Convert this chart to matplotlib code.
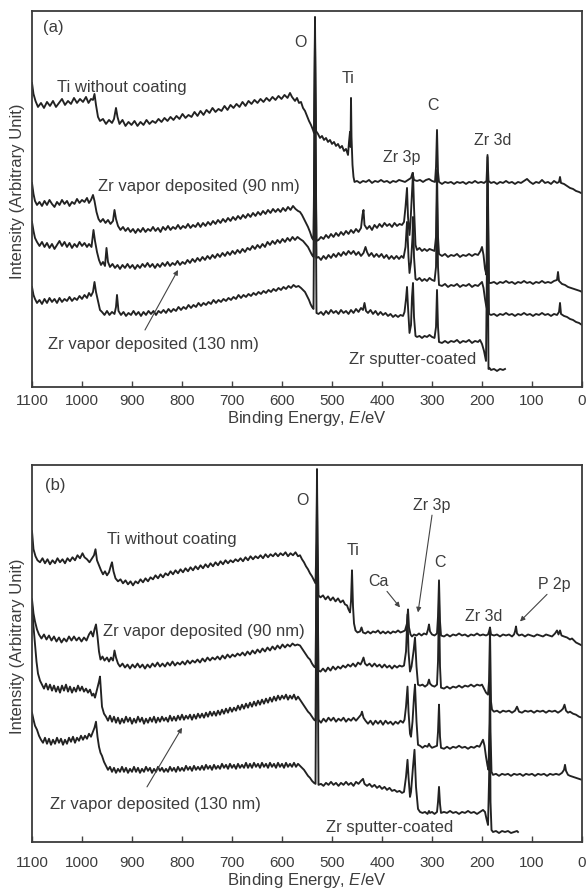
import matplotlib.pyplot as plt
import numpy as np

plt.rcParams['font.family'] = ['Liberation Sans', 'DejaVu Sans']
plt.rcParams['mathtext.fontset'] = 'custom'
plt.rcParams['mathtext.rm'] = 'Liberation Sans'
plt.rcParams['mathtext.it'] = 'Liberation Sans:italic'

# ---- panel (a): [binding energy eV, intensity (arb.)] ----
a_ti = [(1100, 304), (1097, 293), (1093, 286), (1088, 280), (1082, 284), (1076, 279), (1070, 285), (1064, 281),
        (1058, 286), (1052, 280), (1046, 284), (1040, 288), (1034, 282), (1028, 286), (1022, 283), (1016, 289),
        (1010, 284), (1004, 288), (998, 285), (992, 290), (987, 284), (982, 288), (978, 287), (975, 293),
        (972, 282), (968, 270), (964, 266), (958, 268), (952, 263), (946, 267), (940, 264), (936, 268),
        (932, 279), (929, 270), (925, 263), (919, 267), (913, 261), (907, 265), (901, 262), (895, 266),
        (889, 261), (883, 265), (877, 262), (871, 267), (865, 263), (859, 266), (853, 264), (847, 268),
        (841, 265), (835, 269), (829, 266), (823, 270), (817, 267), (811, 271), (805, 268), (799, 273),
        (793, 269), (787, 272), (781, 270), (775, 275), (769, 271), (763, 276), (757, 272), (751, 277),
        (745, 274), (739, 279), (733, 275), (727, 278), (721, 276), (715, 281), (709, 277), (703, 282),
        (697, 279), (691, 283), (685, 280), (679, 285), (673, 281), (667, 286), (661, 283), (655, 287),
        (649, 284), (643, 288), (637, 285), (631, 289), (625, 286), (619, 290), (613, 287), (607, 291),
        (601, 288), (595, 292), (589, 289), (584, 294), (580, 290), (574, 286), (570, 289), (566, 284),
        (562, 285), (558, 279), (554, 276), (550, 271), (546, 266), (542, 262), (538, 257), (536, 254),
        (535, 300), (534, 370), (533, 300), (532, 256), (528, 253), (524, 249), (520, 251), (516, 247),
        (512, 249), (508, 245), (504, 247), (500, 243), (496, 245), (492, 241), (488, 243), (484, 239),
        (480, 241), (476, 236), (472, 238), (468, 232), (466, 245), (464, 255), (463, 240), (462, 289),
        (461, 250), (459, 222), (457, 210), (455, 205), (450, 206), (444, 204), (438, 206), (432, 205),
        (426, 207), (420, 204), (414, 206), (408, 205), (402, 207), (396, 205), (390, 206), (384, 204),
        (378, 206), (372, 205), (366, 207), (360, 206), (354, 205), (348, 207), (342, 209), (339, 214),
        (336, 207), (330, 206), (324, 207), (318, 205), (312, 207), (306, 208), (300, 206), (294, 205),
        (292, 220), (290, 257), (288, 215), (286, 205), (280, 203), (274, 205), (268, 204), (262, 205),
        (256, 203), (250, 205), (244, 204), (238, 205), (232, 203), (226, 205), (220, 204), (214, 206),
        (208, 204), (202, 205), (196, 204), (191, 206), (189, 230), (187, 206), (182, 204), (176, 205),
        (170, 203), (164, 205), (158, 204), (152, 206), (146, 204), (140, 205), (134, 203), (128, 205),
        (122, 204), (116, 206), (110, 208), (104, 205), (98, 203), (92, 205), (86, 204), (80, 207),
        (74, 204), (68, 205), (62, 203), (56, 206), (50, 204), (46, 205), (44, 210), (42, 204),
        (36, 203), (30, 201), (24, 199), (18, 198), (12, 196), (6, 195), (2, 194)]

a_zr90 = [(1100, 204), (1097, 193), (1094, 186), (1090, 182), (1085, 185), (1080, 181), (1075, 186), (1070, 182),
          (1065, 187), (1060, 183), (1055, 180), (1050, 185), (1045, 182), (1040, 187), (1035, 183), (1030, 186),
          (1025, 181), (1020, 185), (1015, 183), (1010, 188), (1005, 184), (1000, 187), (995, 185), (990, 189),
          (986, 184), (982, 187), (978, 192), (975, 186), (971, 175), (967, 168), (963, 165), (958, 168),
          (953, 164), (948, 167), (943, 163), (938, 166), (935, 177), (932, 168), (928, 161), (923, 157),
          (918, 160), (913, 156), (908, 159), (903, 155), (898, 158), (893, 154), (888, 158), (883, 155),
          (878, 159), (873, 155), (868, 158), (863, 156), (858, 160), (853, 156), (848, 159), (843, 155),
          (838, 160), (833, 157), (828, 161), (823, 157), (818, 160), (813, 158), (808, 162), (803, 158),
          (798, 161), (793, 159), (788, 163), (783, 159), (778, 162), (773, 160), (768, 164), (763, 160),
          (758, 164), (753, 161), (748, 165), (743, 162), (738, 166), (733, 163), (728, 167), (723, 164),
          (718, 168), (713, 165), (708, 169), (703, 166), (698, 170), (693, 167), (688, 171), (683, 168),
          (678, 172), (673, 169), (668, 173), (663, 170), (658, 174), (653, 171), (648, 175), (643, 172),
          (638, 176), (633, 173), (628, 177), (623, 174), (618, 178), (613, 175), (608, 178), (603, 175),
          (598, 179), (593, 176), (588, 180), (583, 177), (578, 181), (573, 178), (568, 176), (564, 175),
          (560, 172), (556, 168), (552, 164), (548, 160), (544, 155), (540, 149), (537, 147), (535, 250),
          (534, 365), (533, 250), (531, 146), (527, 147), (522, 150), (517, 148), (512, 152), (507, 149),
          (502, 153), (497, 150), (492, 154), (487, 151), (482, 155), (477, 152), (472, 156), (467, 153),
          (462, 157), (457, 154), (452, 158), (447, 155), (442, 159), (439, 172), (437, 177), (435, 162),
          (430, 158), (425, 161), (420, 157), (415, 162), (410, 159), (405, 163), (400, 160), (395, 164),
          (390, 161), (385, 163), (380, 160), (375, 164), (370, 161), (365, 163), (360, 162), (356, 165),
          (353, 180), (350, 199), (348, 170), (345, 152), (343, 165), (340, 195), (338, 214), (336, 180),
          (333, 142), (330, 137), (325, 139), (320, 136), (315, 138), (310, 136), (305, 138), (300, 137),
          (295, 136), (292, 150), (290, 217), (288, 150), (286, 133), (280, 131), (274, 133), (268, 130),
          (262, 132), (256, 131), (250, 133), (244, 130), (238, 132), (232, 131), (226, 133), (220, 131),
          (214, 133), (208, 132), (203, 136), (200, 140), (197, 132), (194, 118), (191, 112), (189, 232),
          (186, 104), (182, 104), (176, 105), (170, 103), (164, 105), (158, 104), (152, 106), (146, 104),
          (140, 105), (134, 103), (128, 105), (122, 104), (116, 106), (110, 104), (104, 105), (98, 103),
          (92, 105), (86, 104), (80, 106), (74, 104), (68, 105), (62, 104), (56, 106), (50, 107),
          (48, 115), (46, 106), (40, 103), (34, 102), (28, 100), (22, 99), (16, 98), (10, 97), (4, 96), (0, 95)]

a_zr130 = [(1100, 165), (1097, 156), (1094, 149), (1090, 145), (1085, 141), (1080, 145), (1075, 140), (1070, 144),
           (1065, 139), (1060, 143), (1055, 138), (1050, 142), (1045, 146), (1040, 141), (1035, 145), (1030, 140),
           (1025, 144), (1020, 139), (1015, 143), (1010, 140), (1005, 145), (1000, 141), (995, 144), (990, 140),
           (986, 143), (981, 140), (977, 157), (974, 146), (970, 135), (966, 127), (962, 122), (958, 125),
           (954, 121), (951, 139), (948, 125), (944, 120), (939, 123), (934, 119), (929, 122), (924, 118),
           (919, 122), (914, 119), (909, 123), (904, 119), (899, 122), (894, 118), (889, 122), (884, 119),
           (879, 123), (874, 120), (869, 124), (864, 120), (859, 123), (854, 119), (849, 123), (844, 120),
           (839, 124), (834, 121), (829, 125), (824, 121), (819, 124), (814, 122), (809, 126), (804, 122),
           (799, 125), (794, 123), (789, 127), (784, 124), (779, 128), (774, 125), (769, 129), (764, 126),
           (759, 130), (754, 127), (749, 131), (744, 128), (739, 132), (734, 129), (729, 133), (724, 130),
           (719, 134), (714, 131), (709, 135), (704, 132), (699, 136), (694, 133), (689, 137), (684, 134),
           (679, 138), (674, 135), (669, 139), (664, 137), (659, 141), (654, 138), (649, 142), (644, 139),
           (639, 143), (634, 140), (629, 145), (624, 142), (619, 146), (614, 143), (609, 147), (604, 144),
           (599, 148), (594, 145), (589, 149), (584, 146), (579, 150), (574, 147), (569, 150), (564, 148),
           (558, 146), (553, 143), (548, 140), (544, 136), (540, 132), (537, 130), (535, 240), (534, 360),
           (533, 240), (531, 129), (527, 130), (522, 127), (517, 131), (512, 128), (507, 132), (502, 129),
           (497, 133), (492, 130), (487, 134), (482, 131), (477, 135), (472, 132), (467, 136), (462, 133),
           (457, 136), (452, 132), (447, 135), (442, 131), (437, 134), (433, 140), (430, 135), (426, 131),
           (421, 134), (416, 130), (411, 133), (406, 130), (401, 133), (396, 129), (391, 132), (386, 128),
           (381, 131), (376, 128), (371, 131), (366, 128), (361, 131), (357, 129), (353, 140), (350, 165),
           (347, 130), (345, 114), (342, 125), (339, 150), (338, 170), (336, 130), (333, 108), (330, 107),
           (325, 109), (320, 106), (315, 108), (310, 106), (305, 109), (300, 107), (295, 106), (292, 120),
           (290, 190), (288, 120), (286, 102), (280, 101), (274, 103), (268, 100), (262, 102), (256, 101),
           (250, 103), (244, 100), (238, 102), (232, 101), (226, 103), (220, 100), (214, 102), (208, 101),
           (204, 103), (200, 105), (197, 99), (194, 88), (192, 82), (190, 78), (189, 215), (186, 73),
           (182, 72), (176, 73), (170, 71), (164, 73), (158, 72), (152, 74), (146, 72), (140, 73),
           (134, 71), (128, 73), (122, 72), (116, 74), (110, 72), (104, 73), (98, 71), (92, 73),
           (86, 72), (80, 74), (74, 72), (68, 73), (62, 71), (56, 73), (50, 72), (46, 75), (44, 84),
           (42, 73), (36, 71), (30, 70), (24, 68), (18, 67), (12, 65), (6, 64), (0, 62)]

a_sput = [(1100, 100), (1097, 92), (1094, 88), (1090, 84), (1085, 87), (1080, 83), (1075, 88), (1070, 84),
          (1065, 89), (1060, 85), (1055, 88), (1050, 84), (1045, 89), (1040, 85), (1035, 88), (1030, 86),
          (1025, 90), (1020, 86), (1015, 89), (1010, 87), (1005, 91), (1000, 88), (995, 92), (990, 89),
          (986, 94), (982, 91), (978, 95), (975, 105), (972, 95), (968, 86), (964, 77), (960, 75),
          (955, 72), (950, 76), (945, 72), (940, 75), (935, 73), (932, 80), (930, 92), (927, 76),
          (922, 72), (917, 75), (912, 71), (907, 74), (902, 72), (897, 76), (892, 72), (887, 75),
          (882, 71), (877, 75), (872, 72), (867, 76), (862, 73), (857, 76), (852, 72), (847, 76),
          (842, 74), (837, 77), (832, 74), (827, 78), (822, 75), (817, 78), (812, 76), (807, 80),
          (802, 77), (797, 80), (792, 78), (787, 82), (782, 79), (777, 82), (772, 80), (767, 84),
          (762, 81), (757, 84), (752, 82), (747, 85), (742, 83), (737, 87), (732, 84), (727, 87),
          (722, 85), (717, 88), (712, 86), (707, 89), (702, 87), (697, 90), (692, 88), (687, 92),
          (682, 89), (677, 92), (672, 90), (667, 93), (662, 91), (657, 94), (652, 92), (647, 95),
          (642, 93), (637, 96), (632, 94), (627, 97), (622, 95), (617, 98), (612, 96), (607, 99),
          (602, 97), (597, 100), (592, 98), (587, 101), (582, 99), (577, 102), (572, 100), (567, 101),
          (562, 99), (558, 97), (554, 95), (550, 91), (546, 87), (543, 83), (540, 80), (537, 78),
          (535, 230), (534, 355), (533, 230), (531, 74), (527, 73), (522, 75), (517, 72), (512, 76),
          (507, 73), (502, 77), (497, 74), (492, 76), (487, 73), (482, 77), (477, 74), (472, 76),
          (467, 73), (462, 77), (457, 74), (452, 78), (447, 75), (442, 79), (438, 77), (435, 84),
          (432, 76), (428, 74), (423, 77), (418, 73), (413, 76), (408, 72), (403, 75), (398, 72),
          (393, 74), (388, 71), (383, 73), (378, 70), (373, 72), (368, 70), (363, 72), (358, 71),
          (355, 75), (352, 88), (350, 100), (348, 80), (345, 54), (342, 62), (340, 90), (338, 104),
          (336, 70), (333, 51), (330, 50), (325, 51), (320, 49), (315, 51), (310, 50), (305, 52),
          (300, 50), (295, 49), (292, 60), (290, 97), (288, 60), (286, 45), (280, 44), (274, 46),
          (268, 44), (262, 46), (256, 45), (250, 47), (244, 44), (238, 46), (232, 45), (226, 47),
          (220, 44), (214, 46), (208, 45), (204, 47), (200, 43), (196, 36), (192, 26), (189, 180),
          (187, 18), (185, 19), (182, 17), (176, 18), (170, 16), (164, 18), (158, 17), (154, 18)]

# ---- panel (b) ----
b_ti = [(1100, 310), (1097, 292), (1093, 285), (1089, 281), (1084, 279), (1079, 283), (1074, 278), (1069, 282),
        (1064, 277), (1059, 281), (1054, 278), (1049, 283), (1044, 279), (1039, 282), (1034, 278), (1029, 283),
        (1024, 280), (1019, 284), (1014, 281), (1009, 286), (1004, 283), (999, 288), (995, 284), (990, 282),
        (985, 279), (980, 283), (976, 286), (973, 292), (970, 281), (966, 276), (962, 271), (958, 267),
        (954, 270), (950, 266), (946, 269), (942, 276), (940, 279), (937, 270), (933, 263), (928, 260),
        (923, 262), (918, 258), (913, 261), (908, 257), (903, 260), (898, 256), (893, 260), (888, 258),
        (883, 262), (878, 259), (873, 263), (868, 260), (863, 264), (858, 262), (853, 266), (848, 263),
        (843, 267), (838, 264), (833, 268), (828, 266), (823, 270), (818, 267), (813, 271), (808, 268),
        (803, 272), (798, 269), (793, 273), (788, 270), (783, 274), (778, 271), (773, 275), (768, 272),
        (763, 276), (758, 273), (753, 277), (748, 274), (743, 278), (738, 275), (733, 279), (728, 276),
        (723, 280), (718, 277), (713, 281), (708, 278), (703, 281), (698, 279), (693, 282), (688, 280),
        (683, 283), (678, 280), (673, 284), (668, 281), (663, 285), (658, 282), (653, 285), (648, 283),
        (643, 286), (638, 283), (633, 287), (628, 284), (623, 287), (618, 285), (613, 288), (608, 285),
        (603, 288), (598, 286), (593, 289), (588, 285), (583, 288), (578, 286), (573, 289), (568, 285),
        (564, 286), (560, 282), (556, 279), (552, 275), (548, 272), (544, 268), (540, 265), (536, 261),
        (533, 258), (531, 300), (530, 372), (529, 300), (527, 246), (523, 244), (518, 246), (513, 242),
        (508, 245), (503, 241), (498, 244), (493, 240), (488, 243), (483, 239), (478, 241), (474, 237),
        (470, 236), (467, 232), (464, 229), (462, 240), (460, 271), (458, 235), (456, 218), (453, 211),
        (449, 209), (444, 210), (441, 214), (438, 209), (433, 208), (428, 210), (423, 208), (418, 210),
        (413, 209), (408, 211), (403, 208), (398, 210), (393, 208), (388, 210), (383, 208), (378, 210),
        (373, 209), (368, 211), (363, 209), (358, 210), (354, 211), (350, 218), (348, 232), (346, 214),
        (343, 207), (340, 205), (336, 207), (331, 206), (326, 208), (321, 206), (316, 208), (311, 207),
        (308, 212), (306, 217), (304, 210), (300, 207), (295, 206), (290, 208), (288, 225), (286, 261),
        (284, 220), (282, 206), (276, 205), (270, 207), (264, 205), (258, 207), (252, 206), (246, 208),
        (240, 206), (234, 207), (228, 205), (222, 207), (216, 206), (210, 208), (204, 206), (198, 207),
        (192, 206), (188, 207), (186, 210), (184, 214), (182, 207), (176, 206), (170, 207), (164, 205),
        (158, 207), (152, 206), (146, 207), (140, 205), (136, 207), (134, 210), (132, 215), (130, 208),
        (126, 206), (120, 207), (114, 205), (108, 207), (102, 206), (96, 205), (90, 207), (84, 206),
        (78, 205), (72, 207), (66, 206), (60, 205), (54, 208), (50, 211), (47, 207), (44, 211),
        (41, 206), (36, 205), (30, 204), (24, 202), (20, 203), (16, 201), (12, 199), (8, 198), (4, 197), (0, 196)]

b_zr90 = [(1100, 242), (1097, 228), (1094, 220), (1090, 212), (1086, 207), (1081, 203), (1076, 207), (1071, 202),
          (1066, 206), (1061, 201), (1056, 205), (1051, 200), (1046, 204), (1041, 199), (1036, 203), (1031, 200),
          (1026, 205), (1021, 201), (1016, 205), (1011, 201), (1006, 204), (1001, 200), (996, 204), (991, 201),
          (986, 207), (982, 210), (978, 205), (975, 212), (972, 217), (969, 205), (966, 190), (963, 182),
          (959, 185), (955, 181), (950, 184), (946, 180), (942, 184), (938, 181), (935, 191), (932, 184),
          (928, 178), (924, 175), (919, 178), (914, 174), (909, 177), (904, 173), (899, 177), (894, 174),
          (889, 178), (884, 174), (879, 177), (874, 173), (869, 177), (864, 174), (859, 178), (854, 175),
          (849, 179), (844, 175), (839, 178), (834, 175), (829, 179), (824, 176), (819, 180), (814, 176),
          (809, 179), (804, 177), (799, 180), (794, 177), (789, 181), (784, 178), (779, 181), (774, 179),
          (769, 182), (764, 179), (759, 183), (754, 180), (749, 184), (744, 181), (739, 184), (734, 182),
          (729, 185), (724, 182), (719, 186), (714, 183), (709, 187), (704, 184), (699, 187), (694, 185),
          (689, 188), (684, 186), (679, 189), (674, 186), (669, 190), (664, 187), (659, 191), (654, 188),
          (649, 192), (644, 189), (639, 193), (634, 190), (629, 194), (624, 191), (619, 195), (614, 192),
          (609, 196), (604, 193), (599, 197), (594, 194), (589, 197), (584, 195), (579, 198), (574, 196),
          (569, 197), (564, 196), (560, 193), (556, 190), (552, 187), (548, 184), (544, 182), (540, 178),
          (536, 175), (533, 174), (531, 260), (530, 360), (529, 260), (527, 171), (523, 170), (518, 173),
          (513, 170), (508, 174), (503, 171), (498, 175), (493, 172), (488, 175), (483, 173), (478, 176),
          (473, 174), (468, 177), (463, 175), (458, 178), (453, 175), (448, 179), (443, 177), (440, 180),
          (437, 184), (434, 178), (430, 176), (425, 178), (420, 175), (415, 178), (410, 175), (405, 177),
          (400, 174), (395, 177), (390, 174), (385, 176), (380, 173), (375, 176), (370, 174), (365, 176),
          (360, 175), (356, 176), (352, 190), (349, 227), (347, 190), (344, 170), (341, 175), (337, 190),
          (334, 204), (331, 175), (328, 157), (324, 156), (319, 157), (314, 155), (309, 157), (306, 162),
          (304, 158), (300, 156), (295, 155), (290, 157), (288, 180), (286, 242), (284, 175), (282, 154),
          (276, 153), (270, 155), (264, 153), (258, 155), (252, 154), (246, 156), (240, 154), (234, 156),
          (228, 155), (222, 157), (216, 155), (210, 157), (204, 156), (200, 157), (196, 153), (192, 149),
          (188, 147), (186, 160), (184, 212), (182, 140), (180, 132), (176, 130), (170, 131), (164, 129),
          (158, 131), (152, 130), (146, 131), (140, 129), (134, 131), (130, 135), (126, 130), (120, 129),
          (114, 131), (108, 130), (102, 131), (96, 129), (90, 131), (84, 130), (78, 131), (72, 129),
          (66, 131), (60, 130), (54, 131), (48, 129), (42, 131), (38, 133), (35, 137), (32, 131),
          (28, 129), (24, 130), (18, 128), (12, 127), (6, 125), (0, 124)]

b_zr130 = [(1100, 237), (1097, 215), (1094, 198), (1091, 180), (1088, 168), (1084, 161), (1080, 157), (1076, 153),
           (1072, 158), (1068, 152), (1064, 157), (1060, 151), (1056, 156), (1052, 150), (1048, 155), (1044, 149),
           (1040, 156), (1036, 151), (1032, 157), (1028, 150), (1024, 155), (1020, 149), (1016, 154), (1012, 150),
           (1008, 156), (1004, 151), (1000, 155), (996, 150), (992, 153), (988, 149), (984, 152), (980, 146),
           (977, 148), (974, 144), (970, 152), (966, 160), (964, 165), (962, 150), (960, 135), (956, 128),
           (952, 125), (948, 121), (944, 126), (940, 120), (936, 125), (932, 119), (928, 124), (924, 118),
           (920, 123), (916, 119), (912, 125), (908, 120), (904, 124), (900, 118), (896, 123), (892, 119),
           (888, 125), (884, 120), (880, 124), (876, 118), (872, 123), (868, 119), (864, 124), (860, 120),
           (856, 125), (852, 119), (848, 124), (844, 120), (840, 125), (836, 121), (832, 124), (828, 120),
           (824, 126), (820, 121), (816, 125), (812, 121), (808, 126), (804, 122), (800, 127), (796, 122),
           (792, 126), (788, 123), (784, 127), (780, 122), (776, 127), (772, 123), (768, 128), (764, 124),
           (760, 128), (756, 124), (752, 129), (748, 125), (744, 130), (740, 126), (736, 130), (732, 126),
           (728, 131), (724, 127), (720, 132), (716, 128), (712, 133), (708, 129), (704, 134), (700, 130),
           (696, 134), (692, 131), (688, 136), (684, 132), (680, 137), (676, 133), (672, 138), (668, 134),
           (664, 139), (660, 135), (656, 140), (652, 136), (648, 141), (644, 137), (640, 142), (636, 138),
           (632, 143), (628, 139), (624, 144), (620, 140), (616, 145), (612, 141), (608, 146), (604, 142),
           (600, 146), (596, 143), (592, 147), (588, 142), (584, 146), (580, 143), (576, 147), (572, 142),
           (568, 145), (564, 142), (560, 139), (556, 136), (552, 133), (548, 130), (544, 128), (540, 125),
           (536, 122), (533, 121), (531, 250), (530, 350), (529, 250), (527, 122), (522, 119), (517, 123),
           (512, 120), (507, 124), (502, 121), (497, 124), (492, 120), (487, 123), (482, 121), (477, 124),
           (472, 120), (467, 123), (462, 121), (457, 124), (452, 121), (447, 124), (442, 127), (440, 130),
           (437, 124), (433, 121), (428, 118), (423, 121), (418, 117), (413, 121), (408, 118), (403, 121),
           (398, 117), (393, 121), (388, 118), (383, 120), (378, 117), (373, 120), (368, 118), (363, 121),
           (358, 119), (355, 122), (352, 135), (349, 155), (347, 130), (344, 108), (342, 105), (339, 120),
           (336, 145), (334, 157), (331, 120), (328, 97), (324, 96), (319, 94), (314, 96), (309, 95),
           (306, 98), (304, 96), (300, 94), (295, 95), (290, 96), (288, 110), (286, 137), (284, 105),
           (282, 94), (276, 93), (270, 95), (264, 93), (258, 95), (252, 94), (246, 96), (240, 94),
           (234, 95), (228, 93), (222, 95), (216, 94), (210, 96), (205, 95), (202, 98), (198, 102),
           (195, 96), (192, 85), (189, 76), (187, 72), (185, 120), (184, 162), (183, 110), (181, 70),
           (178, 67), (172, 68), (166, 66), (160, 68), (154, 67), (148, 68), (142, 66), (136, 68),
           (130, 67), (124, 68), (118, 66), (112, 68), (106, 67), (100, 68), (94, 66), (88, 68),
           (82, 67), (76, 68), (70, 66), (64, 68), (58, 67), (52, 68), (46, 67), (40, 69), (36, 72),
           (34, 77), (32, 71), (28, 67), (24, 66), (18, 65), (12, 64), (6, 63), (0, 62)]

b_sput = [(1100, 129), (1097, 122), (1094, 116), (1090, 112), (1086, 106), (1082, 102), (1078, 99), (1074, 104),
          (1070, 98), (1066, 103), (1062, 97), (1058, 102), (1054, 98), (1050, 104), (1046, 99), (1042, 103),
          (1038, 97), (1034, 102), (1030, 98), (1026, 104), (1022, 100), (1018, 105), (1014, 99), (1010, 104),
          (1006, 101), (1002, 106), (998, 102), (994, 106), (990, 103), (986, 108), (982, 105), (978, 110),
          (975, 114), (972, 120), (969, 105), (966, 95), (963, 89), (960, 86), (956, 80), (952, 76),
          (948, 72), (944, 75), (940, 70), (936, 74), (932, 69), (928, 73), (924, 70), (920, 75),
          (916, 70), (912, 74), (908, 69), (904, 73), (900, 70), (896, 75), (892, 70), (888, 74),
          (884, 69), (880, 73), (876, 70), (872, 75), (868, 71), (864, 74), (860, 69), (856, 73),
          (852, 70), (848, 75), (844, 71), (840, 74), (836, 70), (832, 73), (828, 70), (824, 75),
          (820, 71), (816, 74), (812, 70), (808, 75), (804, 71), (800, 74), (796, 71), (792, 76),
          (788, 72), (784, 75), (780, 71), (776, 76), (772, 72), (768, 75), (764, 72), (760, 76),
          (756, 72), (752, 77), (748, 73), (744, 76), (740, 72), (736, 77), (732, 73), (728, 76),
          (724, 73), (720, 78), (716, 74), (712, 77), (708, 73), (704, 78), (700, 74), (696, 77),
          (692, 73), (688, 78), (684, 74), (680, 77), (676, 74), (672, 79), (668, 74), (664, 78),
          (660, 74), (656, 79), (652, 75), (648, 78), (644, 74), (640, 79), (636, 75), (632, 78),
          (628, 74), (624, 79), (620, 75), (616, 78), (612, 74), (608, 79), (604, 75), (600, 78),
          (596, 74), (592, 79), (588, 75), (584, 78), (580, 75), (576, 79), (572, 75), (568, 78),
          (564, 76), (560, 74), (556, 72), (552, 69), (548, 66), (544, 64), (540, 61), (536, 59),
          (533, 58), (531, 230), (530, 340), (529, 230), (527, 57), (522, 58), (517, 56), (512, 59),
          (507, 57), (502, 60), (497, 57), (492, 59), (487, 56), (482, 59), (477, 57), (472, 60),
          (467, 57), (462, 59), (457, 56), (452, 60), (447, 58), (442, 61), (438, 63), (435, 58),
          (430, 56), (425, 58), (420, 55), (415, 57), (410, 54), (405, 56), (400, 53), (395, 55),
          (390, 52), (385, 54), (380, 51), (375, 52), (370, 50), (365, 51), (360, 49), (356, 50),
          (352, 65), (349, 82), (347, 65), (344, 45), (342, 50), (338, 75), (335, 92), (332, 55),
          (328, 33), (324, 30), (319, 29), (314, 30), (309, 28), (306, 31), (304, 29), (300, 30),
          (295, 28), (290, 30), (288, 40), (286, 55), (284, 38), (282, 29), (276, 30), (270, 29),
          (264, 31), (258, 29), (252, 30), (246, 28), (240, 30), (234, 29), (228, 31), (222, 29),
          (216, 30), (210, 28), (204, 30), (198, 32), (194, 30), (191, 23), (188, 17), (186, 60),
          (184, 122), (183, 40), (181, 12), (178, 10), (172, 11), (166, 9), (160, 11), (154, 10),
          (148, 11), (142, 9), (136, 10), (130, 11), (128, 10)]

tick_vals = [1100, 1000, 900, 800, 700, 600, 500, 400, 300, 200, 100, 0]

ink = '#222222'
txt = '#3c3c3c'

fig = plt.figure(figsize=(5.87, 8.90), dpi=100)
ax_a = fig.add_axes([0.0545, 0.5652, 0.937, 0.4225])
ax_b = fig.add_axes([0.0545, 0.0539, 0.937, 0.4236])


def setup(ax, pad):
    ax.set_xlim(1100, 0)
    ax.set_ylim(0, 376)
    ax.set_yticks([])
    ax.set_xticks(tick_vals)
    ax.set_xticklabels([str(v) for v in tick_vals], fontsize=11, color=txt)
    ax.tick_params(axis='x', direction='in', length=4, width=1, color='#444444', pad=pad)
    for s in ax.spines.values():
        s.set_linewidth(1.3)
        s.set_color('#3a3a3a')
    ax.set_xlabel('Binding Energy, $\\it{E}$/eV', fontsize=12, color=txt, labelpad=1)
    ax.set_ylabel('Intensity (Arbitrary Unit)', fontsize=12, color=txt)
    ax.yaxis.set_label_coords(-0.012, 0.52)


for ax, curves in [(ax_a, [a_ti, a_zr90, a_zr130, a_sput]), (ax_b, [b_ti, b_zr90, b_zr130, b_sput])]:
    for c in curves:
        arr = np.array(c)
        ax.plot(arr[:, 0], arr[:, 1], color=ink, lw=1.35)

setup(ax_a, 5)
setup(ax_b, 10)

arrow = dict(arrowstyle='-|>', color='#444444', lw=0.8, mutation_scale=7, shrinkA=0, shrinkB=0)
lab = dict(color=txt, fontsize=12)
peak = dict(color=txt, fontsize=11.5, ha='center', va='center')

# panel (a) labels
ax_a.text(1078, 359, '(a)', ha='left', va='center', **lab)
ax_a.text(564, 344, 'O', **peak)
ax_a.text(468, 308, 'Ti', **peak)
ax_a.text(298, 281, 'C', **peak)
ax_a.text(360, 229, 'Zr 3p', **peak)
ax_a.text(178, 246, 'Zr 3d', **peak)
ax_a.text(1050, 299, 'Ti without coating', ha='left', va='center', **lab)
ax_a.text(968, 200, 'Zr vapor deposited (90 nm)', ha='left', va='center', **lab)
ax_a.text(1068, 42, 'Zr vapor deposited (130 nm)', ha='left', va='center', **lab)
ax_a.annotate('', xy=(808, 117), xytext=(874, 57), arrowprops=arrow)
ax_a.text(338, 27, 'Zr sputter-coated', ha='center', va='center', **lab)

# panel (b) labels
ax_b.text(1074, 356, '(b)', ha='left', va='center', **lab)
ax_b.text(560, 341, 'O', **peak)
ax_b.text(300, 336, 'Zr 3p', **peak)
ax_b.annotate('', xy=(328, 229), xytext=(300, 326), arrowprops=arrow)
ax_b.text(458, 291, 'Ti', **peak)
ax_b.text(284, 279, 'C', **peak)
ax_b.text(408, 260, 'Ca', **peak)
ax_b.annotate('', xy=(364, 234), xytext=(390, 250), arrowprops=arrow)
ax_b.text(196, 225, 'Zr 3d', **peak)
ax_b.text(56, 257, 'P 2p', **peak)
ax_b.annotate('', xy=(124, 220), xytext=(70, 247), arrowprops=arrow)
ax_b.text(950, 302, 'Ti without coating', ha='left', va='center', **lab)
ax_b.text(958, 210, 'Zr vapor deposited (90 nm)', ha='left', va='center', **lab)
ax_b.text(1064, 37, 'Zr vapor deposited (130 nm)', ha='left', va='center', **lab)
ax_b.annotate('', xy=(800, 114), xytext=(870, 55), arrowprops=arrow)
ax_b.text(384, 14, 'Zr sputter-coated', ha='center', va='center', **lab)

fig.savefig('out.png', dpi=100)
